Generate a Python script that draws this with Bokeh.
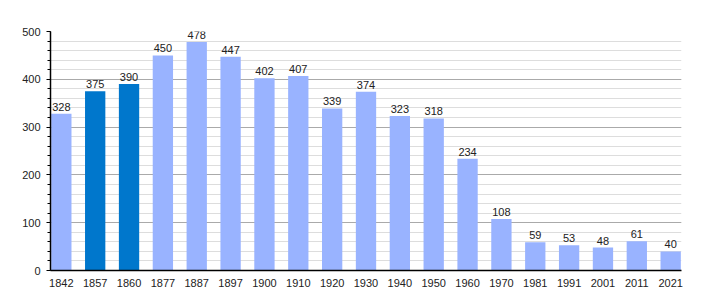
from bokeh.plotting import figure
from bokeh.models import Range1d, FixedTicker, ColumnDataSource, SingleIntervalTicker
from bokeh.core.properties import value
from bokeh.embed import file_html
from bokeh.resources import INLINE

years = ["1842", "1857", "1860", "1877", "1887", "1897", "1900", "1910", "1920", "1930",
         "1940", "1950", "1960", "1970", "1981", "1991", "2001", "2011", "2021"]
population = [328, 375, 390, 450, 478, 447, 402, 407, 339, 374,
              323, 318, 234, 108, 59, 53, 48, 61, 40]
highlight = ["1857", "1860"]

LIGHT = "#99b3ff"
DARK = "#0077cc"

xs = list(range(len(years)))
colors = [DARK if y in highlight else LIGHT for y in years]
src = ColumnDataSource(dict(x=xs, top=population, color=colors,
                            label=[str(v) for v in population]))

p = figure(width=710, height=300, output_backend="svg", toolbar_location=None,
           x_range=Range1d(-0.32, len(years) - 1 + 0.32), y_range=Range1d(0, 500),
           min_border_left=50, min_border_right=29, min_border_top=31, min_border_bottom=30)
p.outline_line_color = None
p.background_fill_color = "white"
p.border_fill_color = "white"

p.vbar(x="x", top="top", width=0.6, bottom=0, color="color", line_color=None, source=src)
p.text(x="x", y="top", text="label", source=src, text_align="center", text_baseline="bottom",
       y_offset=-3, text_font=value("Liberation Sans"), text_font_size="11px", text_color="#222222")

# x axis
p.xaxis.ticker = FixedTicker(ticks=xs)
p.xaxis.major_label_overrides = {i: y for i, y in enumerate(years)}
p.xaxis.major_tick_line_color = None
p.xaxis.minor_tick_line_color = None
p.xaxis.axis_line_color = "black"
p.xaxis.axis_line_width = 1.5
p.xaxis.major_label_standoff = 2
p.xaxis.major_label_text_font = "Liberation Sans"
p.xaxis.major_label_text_font_size = "11px"
p.xaxis.major_label_text_color = "#222222"
p.xgrid.grid_line_color = None

# y axis
p.yaxis.ticker = SingleIntervalTicker(interval=100, num_minor_ticks=5)
p.yaxis.axis_line_color = "black"
p.yaxis.axis_line_width = 1.5
p.yaxis.major_tick_in = 0
p.yaxis.major_tick_out = 4
p.yaxis.minor_tick_in = 0
p.yaxis.minor_tick_out = 3
p.yaxis.major_tick_line_color = "black"
p.yaxis.minor_tick_line_color = "black"
p.yaxis.major_label_standoff = 6
p.yaxis.major_label_text_font = "Liberation Sans"
p.yaxis.major_label_text_font_size = "11px"
p.yaxis.major_label_text_color = "#222222"
p.ygrid.grid_line_color = "#aaaaaa"
p.ygrid.minor_grid_line_color = "#dddddd"
p.ygrid.level = "underlay"

open("out.html", "w").write(file_html(p, INLINE))
